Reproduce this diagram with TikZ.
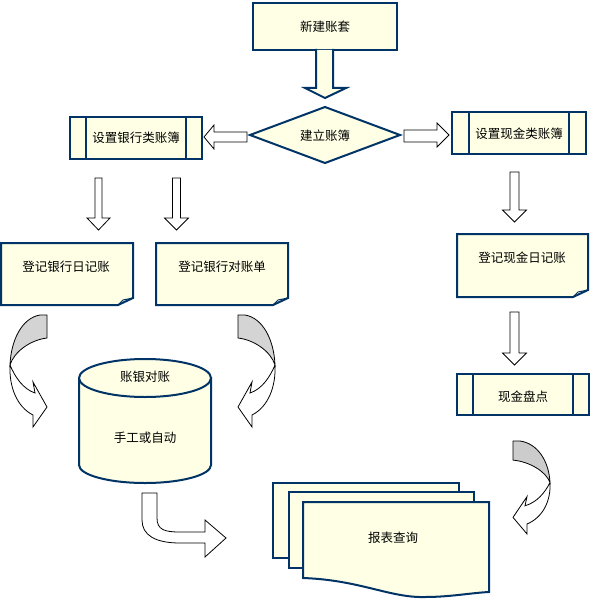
\documentclass[tikz,border=0pt]{standalone}
\usepackage{fontspec}
\newfontfamily\cjk{Noto Sans CJK SC}
\usepackage{tikz}
\definecolor{boxblue}{RGB}{0,51,102}
\definecolor{boxfill}{RGB}{255,255,230}
\definecolor{twistgray}{RGB}{212,212,212}

\tikzset{
  box/.style={draw=boxblue, line width=2pt, fill=boxfill, line join=miter},
  hollow/.style={draw=black, line width=0.8pt, fill=white},
  lbl/.style={font=\cjk\fontsize{12.5}{14}\selectfont, inner sep=0pt}
}

% hollow arrow pointing down: centre x, top, head base, tip, shaft half width, head half width
\newcommand{\hollowdown}[6]{%
  \draw[hollow] ({#1-#5},#2) -- ({#1+#5},#2) -- ({#1+#5},#3) -- ({#1+#6},#3)
    -- (#1,#4) -- ({#1-#6},#3) -- ({#1-#5},#3) -- cycle;}

% twisted curved arrow, tail top right at the origin
\newcommand{\twistarrow}[1]{%
  \draw[hollow] (-37,50) .. controls (-32,62) and (-24,74) .. (-12,78)
    -- (-14,67) -- (0,92) -- (-14,112) -- (-14,100)
    .. controls (-30,92) and (-38,72) .. (-37,50);
  \draw[hollow, fill=#1] (-7,0) -- (0,0) -- (0,23)
    .. controls (-17,25) and (-33,37) .. (-37,50)
    .. controls (-36,25) and (-25,3) .. (-7,0) -- cycle;}

% document with folded corner: x0, y0, x1, y1
\newcommand{\folddoc}[4]{%
  \draw[box] (#1,#2) -- (#3,#2) -- (#3,{#4-7}) -- ({#3-15},#4) -- (#1,#4) -- cycle;
  \draw[boxblue, line width=1pt] ({#3-15},#4) -- ({#3-10},{#4-5}) -- (#3,{#4-7});}

% predefined process box: x0, y0, x1, y1, inner lines
\newcommand{\procbox}[6]{%
  \draw[box] (#1,#2) rectangle (#3,#4);
  \draw[boxblue, line width=2pt] (#5,#2) -- (#5,#4) (#6,#2) -- (#6,#4);}

\begin{document}
\begin{tikzpicture}[x=1pt, y=-1pt]
  \useasboundingbox (0,0) rectangle (595,604);

  % New account set
  \draw[box] (253,3) rectangle (397,50);
  \node[lbl] (newset) at (325,27) {新建账套};

  % Big arrow into the diamond
  \fill[boxfill] (316,50) -- (316,88) -- (305,88) -- (325,98) -- (346,88) -- (333,88) -- (333,50) -- cycle;
  \draw[boxblue, line width=2pt] (316,49) -- (316,88) -- (305,88) -- (325,98) -- (346,88) -- (333,88) -- (333,49);

  % Decision diamond
  \draw[box] (250,135) -- (325,107) -- (400,135) -- (325,163) -- cycle;
  \node[lbl] (setup) at (325,136) {建立账簿};

  % Arrows to the two kinds of books
  \draw[hollow] (247,132) -- (214,132) -- (214,125) -- (204,137) -- (214,149) -- (214,142) -- (247,142) -- cycle;
  \draw[hollow] (404,130) -- (437,130) -- (437,123) -- (449,135) -- (437,147) -- (437,142) -- (404,142) -- cycle;

  % Bank books
  \procbox{70}{117}{202}{159}{86}{186}
  \node[lbl] (bankbook) at (136,138) {设置银行类账簿};

  % Cash books
  \procbox{452}{112}{586}{154}{469}{569}
  \node[lbl] (cashbook) at (519,134) {设置现金类账簿};

  % Down arrows
  \hollowdown{98.5}{178}{218}{230}{3.5}{11.5}
  \hollowdown{176.5}{178}{218}{230}{4}{12}
  \hollowdown{514.5}{172}{210}{222}{4.5}{12}
  \hollowdown{514.5}{312}{353}{365}{4.5}{12}

  % Bank journal and bank statement
  \folddoc{1}{243}{133}{305}
  \node[lbl] (bankjournal) at (66,267) {登记银行日记账};
  \folddoc{156}{243}{288}{305}
  \node[lbl] (bankstmt) at (222,267) {登记银行对账单};

  % Cash journal
  \folddoc{457}{234}{588}{297}
  \node[lbl] (cashjournal) at (522,258) {登记现金日记账};

  % Cash count
  \procbox{457}{374}{589}{415}{473}{573}
  \node[lbl] (cashcount) at (523,397) {现金盘点};

  % Reconciliation cylinder
  \filldraw[box] (79,378) -- (79,465) arc[start angle=180, end angle=0, x radius=66, y radius=18]
    -- (211,378) -- cycle;
  \draw[box] (145,378) ellipse[x radius=66, y radius=19];
  \node[lbl] (recon) at (145,377) {账银对账};
  \node[lbl] (manual) at (145,438) {手工或自动};

  % Twisted arrows
  \begin{scope}[shift={(47,315)}]
    \twistarrow{twistgray}
  \end{scope}
  \begin{scope}[shift={(238,315)}, xscale=-1]
    \twistarrow{twistgray}
  \end{scope}
  \begin{scope}[shift={(513,441)}, xscale=-1, yscale=0.83]
    \twistarrow{gray!40}
  \end{scope}

  % Bent arrow to the reports
  \draw[hollow] (142,493) -- (157,493) -- (157,518) .. controls (157,530) and (165,532) .. (180,532)
    -- (205,532) -- (205,520) -- (226,538) -- (205,557) -- (205,543) -- (180,543)
    .. controls (155,543) and (142,535) .. (142,520) -- cycle;

  % Report stack
  \draw[box] (273,483) rectangle (459,558);
  \draw[box] (289,492) rectangle (474,568);
  \draw[box] (303,502) -- (489,502) -- (489,592)
    .. controls (470,593) and (450,597) .. (425,597)
    .. controls (390,598) and (360,580) .. (303,578) -- cycle;
  \node[lbl] (reports) at (393,538) {报表查询};
\end{tikzpicture}
\end{document}
